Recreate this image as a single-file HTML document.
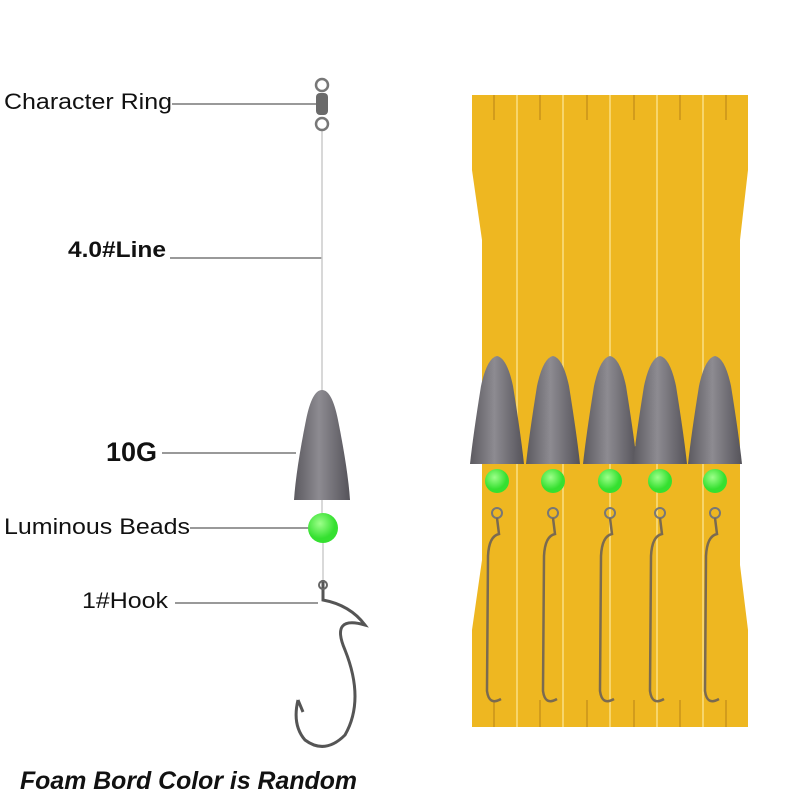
<!DOCTYPE html>
<html><head><meta charset="utf-8"><style>
body{margin:0;background:#fff;width:800px;height:800px;overflow:hidden;font-family:"Liberation Sans",sans-serif}
</style></head><body>
<svg width="800" height="800" viewBox="0 0 800 800" xmlns="http://www.w3.org/2000/svg">
<defs>
<linearGradient id="lead" x1="0" x2="1"><stop offset="0" stop-color="#5c5a60"/><stop offset=".45" stop-color="#8d8b91"/><stop offset="1" stop-color="#55535a"/></linearGradient>
<radialGradient id="bead" cx=".4" cy=".35"><stop offset="0" stop-color="#9dff8a"/><stop offset="1" stop-color="#35e030"/></radialGradient>
<g id="s">
<path d="M0 -10 Q-10 -8 -16 20 Q-24 70 -27 98 L27 98 Q24 70 16 20 Q10 -8 0 -10 Z" fill="url(#lead)"/>
<circle cx="0" cy="115" r="12" fill="url(#bead)"/>
<circle cx="0" cy="147" r="5" fill="none" stroke="#777" stroke-width="2"/>
<path d="M0 152 L2 168 Q-8 170 -9 190 L-10 325 Q-8 340 4 333" fill="none" stroke="#7a6a50" stroke-width="2.5"/>
</g>
</defs>
<g font-family="Liberation Sans, sans-serif" fill="#111" lengthAdjust="spacingAndGlyphs">
<text x="4" y="109" font-size="22" textLength="168" lengthAdjust="spacingAndGlyphs">Character Ring</text>
<text x="68" y="257" font-size="22" font-weight="bold" textLength="98" lengthAdjust="spacingAndGlyphs">4.0#Line</text>
<text x="106" y="461" font-size="27" font-weight="bold">10G</text>
<text x="4" y="534" font-size="22" textLength="186" lengthAdjust="spacingAndGlyphs">Luminous Beads</text>
<text x="82" y="608" font-size="22" textLength="86" lengthAdjust="spacingAndGlyphs">1#Hook</text>
<text x="20" y="789" font-size="25" font-weight="bold" font-style="italic" textLength="337" lengthAdjust="spacingAndGlyphs">Foam Bord Color is Random</text>
</g>
<g stroke="#333" stroke-width="1">
<line x1="172" y1="104" x2="318" y2="104"/>
<line x1="170" y1="258" x2="322" y2="258"/>
<line x1="162" y1="453" x2="296" y2="453"/>
<line x1="190" y1="528" x2="310" y2="528"/>
<line x1="175" y1="603" x2="318" y2="603"/>
</g>
<line x1="322" y1="130" x2="322" y2="392" stroke="#ccc" stroke-width="1.5"/>
<circle cx="322" cy="85" r="6" fill="none" stroke="#777" stroke-width="2.5"/>
<rect x="316" y="93" width="12" height="22" rx="4" fill="#6a6a6a"/>
<circle cx="322" cy="124" r="6" fill="none" stroke="#777" stroke-width="2.5"/>
<path d="M322 390 Q312 390 306 420 Q296 470 294 500 L350 500 Q348 470 338 420 Q332 390 322 390 Z" fill="url(#lead)"/>
<line x1="322" y1="500" x2="322" y2="515" stroke="#ccc" stroke-width="1.5"/>
<circle cx="323" cy="528" r="15" fill="url(#bead)"/>
<line x1="323" y1="543" x2="323" y2="580" stroke="#ccc" stroke-width="1.5"/>
<path d="M323 580 L323 600 Q350 605 365 625 Q330 615 345 650 Q365 700 345 735 Q325 755 305 740 Q292 725 298 700 M298 700 L303 712" fill="none" stroke="#555" stroke-width="3"/>
<circle cx="323" cy="585" r="4" fill="none" stroke="#666" stroke-width="2"/>
<path d="M472 95 L748 95 L748 170 L740 240 L740 565 L748 630 L748 727 L472 727 L472 630 L482 560 L482 240 L472 170 Z" fill="#eeb721"/>
<g stroke="#f7d56b" stroke-width="2">
<line x1="517" y1="95" x2="517" y2="727"/><line x1="563" y1="95" x2="563" y2="727"/>
<line x1="610" y1="95" x2="610" y2="727"/><line x1="657" y1="95" x2="657" y2="727"/>
<line x1="703" y1="95" x2="703" y2="727"/>
</g>
<g stroke="#c8931a" stroke-width="1.5">
<line x1="494" y1="95" x2="494" y2="120"/><line x1="540" y1="95" x2="540" y2="120"/><line x1="587" y1="95" x2="587" y2="120"/><line x1="634" y1="95" x2="634" y2="120"/><line x1="680" y1="95" x2="680" y2="120"/><line x1="726" y1="95" x2="726" y2="120"/>
<line x1="494" y1="700" x2="494" y2="727"/><line x1="540" y1="700" x2="540" y2="727"/><line x1="587" y1="700" x2="587" y2="727"/><line x1="634" y1="700" x2="634" y2="727"/><line x1="680" y1="700" x2="680" y2="727"/><line x1="726" y1="700" x2="726" y2="727"/>
</g>
<use href="#s" x="497" y="366"/>
<use href="#s" x="553" y="366"/>
<use href="#s" x="610" y="366"/>
<use href="#s" x="660" y="366"/>
<use href="#s" x="715" y="366"/>
</svg>
</body></html>
